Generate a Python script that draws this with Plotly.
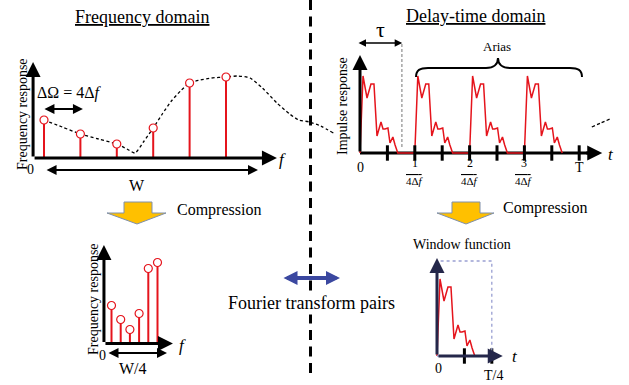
import plotly.graph_objects as go

# ---------------------------------------------------------------- data
freq_bins = [0, 1, 2, 3, 4, 5]
freq_resp = [0.38, 0.24, 0.14, 0.30, 0.75, 0.81]

# continuous frequency response (dashed envelope), in frequency-bin units
curve_f = [0, 0.5, 1, 1.5, 2, 2.28, 2.5, 2.75, 3, 3.25, 3.5, 3.75, 4, 4.3,
           4.6, 5, 5.33, 5.66, 6, 6.4, 6.75, 7, 7.3, 7.6, 7.95]
curve_r = [0.38, 0.31, 0.24, 0.19, 0.14, 0.09, 0.05, 0.17, 0.30, 0.44, 0.57,
           0.67, 0.75, 0.78, 0.80, 0.81, 0.82, 0.80, 0.70, 0.55, 0.44, 0.38,
           0.36, 0.32, 0.25]
tail_f = [15.05, 15.3, 15.55]
tail_r = [0.31, 0.35, 0.39]

# one impulse response, delay in units of 1/(4Δf)
pulse_t = [0, 0.055, 0.128, 0.2, 0.255, 0.31, 0.383, 0.42, 0.456, 0.51,
           0.547, 0.6, 0.64, 0.69]
pulse_h = [0, 0.77, 0.55, 0.69, 0.69, 0.17, 0.31, 0.24, 0.24, 0.25, 0.10,
           0.16, 0.08, 0]
alias_delays = [0, 1, 2, 3]

time_ticks = [0.5, 1, 1.5, 2, 2.5, 3, 3.5, 4]
frac_ticks = [1, 2, 3]
frac_nums = ["1", "2", "3"]
window_ticks = [0.5, 1.0]

# ---------------------------------------------------------------- styling
W, H = 629, 385
RED = "#e5141c"
SERIF = "Liberation Serif"
NAVY = "#24274a"


def fx(p):
    return p / W


def fy(p):
    return 1 - p / H


def panel(box, origin, scale, anchor):
    left, top, right, bottom = box
    ox, oy = origin
    sx, sy = scale
    xa = dict(domain=[fx(left), fx(right)],
              range=[(left - ox) / sx, (right - ox) / sx],
              visible=False, fixedrange=True, anchor="y" + anchor)
    ya = dict(domain=[fy(bottom), fy(top)],
              range=[(oy - bottom) / sy, (oy - top) / sy],
              visible=False, fixedrange=True, anchor="x" + anchor)
    return xa, ya


xa1, ya1 = panel((0, 0, 629, 385), (44, 158), (36.4, 100), "")
xa2, ya2 = panel((330, 25, 629, 200), (360, 153), (54.8, 100), "2")
xa3, ya3 = panel((60, 230, 200, 385), (111.5, 343.5), (9.2, 100), "3")
xa4, ya4 = panel((410, 240, 560, 385), (437, 356), (54.8, 100), "4")

fig = go.Figure()


def stems(xs, ys, xref, yref):
    sx, sy = [], []
    for x, y in zip(xs, ys):
        sx += [x, x, None]
        sy += [0, y, None]
    fig.add_trace(go.Scatter(x=sx, y=sy, mode="lines", xaxis=xref, yaxis=yref,
                             line=dict(color=RED, width=2), hoverinfo="skip"))
    fig.add_trace(go.Scatter(x=xs, y=ys, mode="markers", xaxis=xref, yaxis=yref,
                             marker=dict(symbol="circle", size=8, color="white",
                                         line=dict(color=RED, width=1.2)),
                             hoverinfo="skip"))


# envelope of the frequency response
fig.add_trace(go.Scatter(x=curve_f + [None] + tail_f, y=curve_r + [None] + tail_r,
                         mode="lines", xaxis="x", yaxis="y",
                         line=dict(color="black", width=1.3, dash="3px,2.5px",
                                   shape="spline", smoothing=0.6),
                         hoverinfo="skip"))
stems(freq_bins, freq_resp, "x", "y")
stems(freq_bins, freq_resp, "x3", "y3")

# aliased impulse responses in the delay-time domain
alias_t, alias_h = [], []
for d in alias_delays:
    alias_t += [d + t for t in pulse_t]
    alias_h += pulse_h
fig.add_trace(go.Scatter(x=alias_t, y=alias_h, mode="lines", xaxis="x2", yaxis="y2",
                         line=dict(color=RED, width=1.5), hoverinfo="skip"))
fig.add_trace(go.Scatter(x=time_ticks, y=[0] * len(time_ticks), mode="markers",
                         xaxis="x2", yaxis="y2",
                         marker=dict(symbol="line-ns", size=11,
                                     line=dict(color="black", width=3)),
                         hoverinfo="skip"))

# windowed response
fig.add_trace(go.Scatter(x=pulse_t, y=pulse_h, mode="lines", xaxis="x4", yaxis="y4",
                         line=dict(color=RED, width=1.5), hoverinfo="skip"))
fig.add_trace(go.Scatter(x=window_ticks, y=[0] * len(window_ticks), mode="markers",
                         xaxis="x4", yaxis="y4",
                         marker=dict(symbol="line-ns", size=11,
                                     line=dict(color="black", width=3)),
                         hoverinfo="skip"))

annotations = []
shapes = []


def arrow(xr, yr, x0, y0, x1, y1, color="black", width=3, both=False, size=1.0):
    annotations.append(dict(
        xref=xr, yref=yr, axref=xr, ayref=yr, x=x1, y=y1, ax=x0, ay=y0,
        text="", showarrow=True, arrowhead=2, arrowsize=size, arrowwidth=width,
        arrowcolor=color, arrowside="end+start" if both else "end",
        startarrowhead=2, startarrowsize=size, standoff=0, startstandoff=0))


def label(x, y, text, size=14, angle=0, italic=False, under=False, over=False,
          family=SERIF, bg=None):
    font = dict(family=family, size=size, color="black")
    if italic:
        font["style"] = "italic"
    if under:
        font["lineposition"] = "under"
    if over:
        font["lineposition"] = "over"
    ann = dict(xref="paper", yref="paper", x=fx(x), y=fy(y),
               text=text, showarrow=False, textangle=angle,
               xanchor="center", yanchor="middle", font=font)
    if bg:
        ann["bgcolor"] = bg
    annotations.append(ann)


# axes of the frequency-domain plot
arrow("x", "y", -0.3, 0, -0.3, 0.96)
arrow("x", "y", -0.3, 0, 6.4, 0)
arrow("x", "y", 0.03, -0.12, 5.88, -0.12, width=2, both=True)
arrow("x", "y", -0.03, 0.49, 1.07, 0.49, width=2, both=True)

# axes of the delay-time plot
shapes.append(dict(type="line", xref="x2", yref="y2", x0=0, y0=0, x1=4.2, y1=0,
                   line=dict(color="black", width=3), layer="below"))
arrow("x2", "y2", 4.1, 0, 4.42, 0)
arrow("x2", "y2", 0, 0, 0, 0.98)
arrow("x2", "y2", -0.055, 1.10, 0.77, 1.10, width=1.5, both=True)
shapes.append(dict(type="line", xref="x2", yref="y2", x0=0.765, y0=0.06,
                   x1=0.765, y1=1.10,
                   line=dict(color="#777777", width=1, dash="3px,2px")))

# axes of the compressed frequency plot
arrow("x3", "y3", -0.82, 0, -0.82, 0.985)
arrow("x3", "y3", -0.82, 0, 6.68, 0)
arrow("x3", "y3", -0.49, -0.095, 6.03, -0.095, width=2, both=True)

# window plot
shapes.append(dict(type="rect", xref="x4", yref="y4", x0=0, y0=0, x1=1, y1=0.95,
                   line=dict(color="#9aa0d2", width=1.3, dash="dot")))
arrow("x4", "y4", 0, 0, 0, 0.98, color=NAVY)
arrow("x4", "y4", 0, 0, 1.2, 0, color=NAVY)

# dividing line between the two domains
shapes.append(dict(type="line", xref="paper", yref="paper", x0=fx(310.5), y0=fy(0),
                   x1=fx(310.5), y1=fy(375),
                   line=dict(color="black", width=3, dash="10px,6.5px")))

# Fourier transform pair arrow
annotations.append(dict(xref="paper", yref="paper", axref="pixel", ayref="pixel",
                        x=fx(340), y=fy(278), ax=-58, ay=0, text="", showarrow=True,
                        arrowhead=2, arrowsize=0.7, arrowwidth=4,
                        arrowcolor="#3b48a0", arrowside="end+start",
                        startarrowhead=2, startarrowsize=0.7,
                        standoff=0, startstandoff=0))


def block_arrow(cx, left_r, right_r, wing_l, wing_r, top, shoulder, tip):
    pts = [(left_r, top), (right_r, top), (right_r, shoulder), (wing_r, shoulder),
           (cx, tip), (wing_l, shoulder), (left_r, shoulder)]
    path = "M " + " L ".join(f"{fx(x):.5f},{fy(y):.5f}" for x, y in pts) + " Z"
    shapes.append(dict(type="path", xref="paper", yref="paper", path=path,
                       fillcolor="#ffc000", line=dict(color="#8090aa", width=1)))


block_arrow(137, 124, 152, 107, 166, 202, 213, 224)
block_arrow(466, 452, 480, 437, 494, 202, 213, 224)

# curly brace over the aliased responses
brace_pts = [("M", [(416, 77)]),
             ("C", [(416, 70), (420, 68), (428, 68)]),
             ("L", [(486, 68)]),
             ("C", [(494, 68), (498, 64), (498, 58)]),
             ("C", [(498, 64), (502, 68), (510, 68)]),
             ("L", [(570, 68)]),
             ("C", [(578, 68), (582, 70), (582, 77)])]
brace = " ".join(cmd + " " + " ".join(f"{fx(x):.5f},{fy(y):.5f}" for x, y in pts)
                 for cmd, pts in brace_pts)
shapes.append(dict(type="path", xref="paper", yref="paper", path=brace,
                   line=dict(color="black", width=2)))

# text
label(142, 17, "Frequency domain", 18, under=True)
label(475, 16, "Delay-time domain", 18, under=True)
label(22, 114, "Frequency response", 14, angle=-90)
label(69, 93, "ΔΩ = 4Δ<i>f</i>", 16)
label(30, 170, "0", 14)
label(137, 186, "W", 16)
label(282, 159, "f", 17, italic=True)
label(380, 29, "τ", 22)
label(497, 46, "Arias", 13)
label(343, 106, "Impulse response", 14, angle=-90)
label(360, 167, "0", 14)
label(579, 167, "T", 14)
label(611, 154, "t", 17, italic=True)
for t, num in zip(frac_ticks, frac_nums):
    xp = 360 + 54.8 * t
    label(xp, 163, num, 12)
    label(xp, 181, "4Δ<i>f</i>", 11, over=True)
label(219, 210, "Compression", 16)
label(545, 208, "Compression", 16)
label(311, 303, "Fourier transform pairs", 18, bg="white")
label(93, 299, "Frequency response", 14, angle=-90)
label(102, 355, "0", 14)
label(133, 368, "W/4", 16)
label(182, 345, "f", 17, italic=True)
label(462, 244, "Window function", 14)
label(438, 368, "0", 14)
label(493, 375, "T/4", 14)
label(515, 356, "t", 17, italic=True)

fig.update_layout(
    width=W, height=H, margin=dict(l=0, r=0, t=0, b=0),
    paper_bgcolor="white", plot_bgcolor="rgba(0,0,0,0)",
    showlegend=False,
    xaxis=xa1, yaxis=ya1, xaxis2=xa2, yaxis2=ya2,
    xaxis3=xa3, yaxis3=ya3, xaxis4=xa4, yaxis4=ya4,
    annotations=annotations, shapes=shapes,
)

fig.write_html("out.html")
